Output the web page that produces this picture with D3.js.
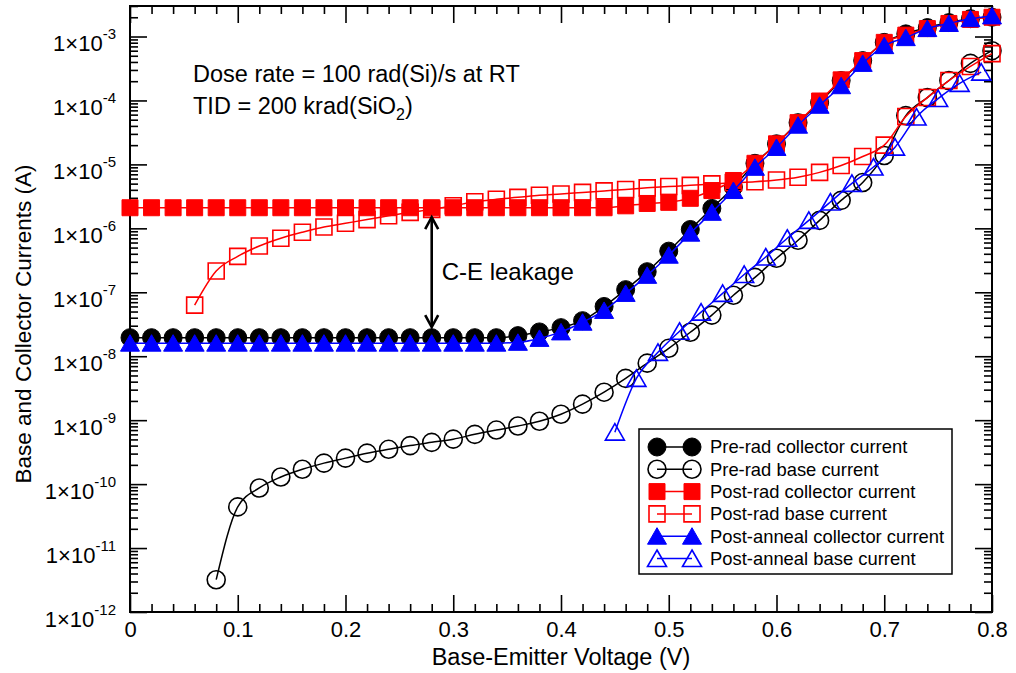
<!DOCTYPE html>
<html>
<head>
<meta charset="utf-8">
<script src="https://cdn.jsdelivr.net/npm/d3@7"></script>
<style>
  body { margin: 0; background: #fff; }
  text { font-family: "Liberation Sans", Arial, Helvetica, sans-serif; }
</style>
</head>
<body>
<svg id="chart" width="1016" height="673"></svg>
<script>
// voltages (V)
var vAll = [0, 0.02, 0.04, 0.06, 0.08, 0.10, 0.12, 0.14, 0.16, 0.18, 0.20, 0.22, 0.24, 0.26, 0.28, 0.30, 0.32, 0.34,
            0.36, 0.38, 0.40, 0.42, 0.44, 0.46, 0.48, 0.50, 0.52, 0.54, 0.56, 0.58, 0.60, 0.62, 0.64, 0.66, 0.68,
            0.70, 0.72, 0.74, 0.76, 0.78, 0.80];
var vPreBase = vAll.slice(4);   // 0.08 .. 0.80
var vPostBase = vAll.slice(3);  // 0.06 .. 0.80
var vAnnBase = [0.45, 0.47, 0.49, 0.51, 0.53, 0.55, 0.57, 0.59, 0.61, 0.63, 0.65, 0.67, 0.69, 0.71, 0.73, 0.75, 0.77, 0.79];

// currents (A)
var preCollector = [1.95e-8, 1.95e-8, 1.95e-8, 1.95e-8, 1.95e-8, 1.95e-8, 1.95e-8, 1.95e-8, 1.95e-8, 1.95e-8,
                    1.95e-8, 1.95e-8, 1.95e-8, 1.95e-8, 1.95e-8, 1.95e-8, 1.95e-8, 1.95e-8,
                    2.1e-8, 2.4e-8, 2.8e-8, 3.6e-8, 6.0e-8, 1.1e-7, 2.1e-7, 4.4e-7, 9.6e-7, 2.05e-6, 4.4e-6,
                    1.04e-5, 2.1e-5, 4.5e-5, 9.3e-5, 2.05e-4, 4.2e-4, 8.1e-4, 1.1e-3, 1.38e-3, 1.65e-3, 1.9e-3, 2.0e-3];
var preBase = [3.2e-12, 4.4e-11, 8.7e-11, 1.29e-10, 1.71e-10, 2.13e-10, 2.55e-10, 3.05e-10, 3.5e-10, 4.0e-10,
               4.5e-10, 5.05e-10, 6.0e-10, 7.0e-10, 8.1e-10, 9.6e-10, 1.24e-9, 1.78e-9, 2.74e-9, 4.5e-9,
               7.8e-9, 1.33e-8, 2.37e-8, 4.4e-8, 9.0e-8, 1.71e-7, 3.4e-7, 6.5e-7, 1.33e-6, 2.74e-6,
               5.2e-6, 1.38e-5, 5.8e-5, 1.11e-4, 2.05e-4, 3.8e-4, 6.0e-4];
var postCollector = [2.1e-6, 2.1e-6, 2.1e-6, 2.1e-6, 2.1e-6, 2.1e-6, 2.1e-6, 2.1e-6, 2.1e-6, 2.1e-6,
                     2.1e-6, 2.1e-6, 2.1e-6, 2.1e-6, 2.1e-6, 2.1e-6, 2.1e-6, 2.1e-6, 2.1e-6, 2.1e-6,
                     2.1e-6, 2.1e-6, 2.1e-6, 2.25e-6, 2.45e-6, 2.55e-6, 2.95e-6, 3.9e-6, 5.6e-6, 1.04e-5,
                     2.1e-5, 4.5e-5, 9.8e-5, 2.1e-4, 4.2e-4, 8.1e-4, 1.05e-3, 1.33e-3, 1.6e-3, 1.85e-3, 2.0e-3];
var postBase = [6.3e-8, 2.15e-7, 3.65e-7, 5.3e-7, 7.0e-7, 8.7e-7, 1.05e-6, 1.2e-6, 1.37e-6, 1.57e-6,
                1.78e-6, 1.98e-6, 2.25e-6, 2.6e-6, 2.85e-6, 3.05e-6, 3.3e-6, 3.45e-6, 3.65e-6, 3.85e-6,
                4.05e-6, 4.3e-6, 4.5e-6, 4.7e-6, 4.95e-6, 5.15e-6, 5.35e-6, 5.7e-6, 6.3e-6, 7.5e-6,
                9.6e-6, 1.33e-5, 2.0e-5, 5.6e-5, 1.11e-4, 2.05e-4, 3.4e-4, 5.4e-4];
var annCollector = [1.6e-8, 1.6e-8, 1.6e-8, 1.6e-8, 1.6e-8, 1.6e-8, 1.6e-8, 1.6e-8, 1.6e-8, 1.6e-8,
                    1.6e-8, 1.6e-8, 1.6e-8, 1.6e-8, 1.6e-8, 1.6e-8, 1.6e-8, 1.6e-8,
                    1.65e-8, 1.9e-8, 2.4e-8, 3.4e-8, 5.2e-8, 9.6e-8, 1.84e-7, 3.8e-7, 8.4e-7, 1.78e-6, 3.9e-6,
                    9.0e-6, 1.84e-5, 4.1e-5, 8.4e-5, 1.7e-4, 3.8e-4, 7.2e-4, 9.6e-4, 1.33e-3, 1.6e-3, 1.9e-3, 2.1e-3];
var annBase = [6.5e-10, 4.5e-9, 1.15e-8, 2.46e-8, 4.9e-8, 9.6e-8, 1.9e-7, 3.56e-7, 7.0e-7, 1.33e-6,
               2.58e-6, 5.05e-6, 9.1e-6, 1.86e-5, 5.5e-5, 1.07e-4, 1.85e-4, 2.77e-4];

var seriesNames = ["Pre-rad collector current", "Pre-rad base current", "Post-rad collector current",
                   "Post-rad base current", "Post-anneal collector current", "Post-anneal base current"];

var xTicks = [0, 0.1, 0.2, 0.3, 0.4, 0.5, 0.6, 0.7, 0.8];
var yExponents = [-12, -11, -10, -9, -8, -7, -6, -5, -4, -3];

// C-E leakage arrow
var arrowV = 0.28, arrowTop = 1.55e-6, arrowBottom = 2.75e-8;

var series = [
  {name: seriesNames[0], v: vAll, i: preCollector, color: "#000000", shape: "circle", filled: true},
  {name: seriesNames[1], v: vPreBase, i: preBase, color: "#000000", shape: "circle", filled: false},
  {name: seriesNames[2], v: vAll, i: postCollector, color: "#ff0000", shape: "square", filled: true},
  {name: seriesNames[3], v: vPostBase, i: postBase, color: "#ff0000", shape: "square", filled: false},
  {name: seriesNames[4], v: vAll, i: annCollector, color: "#0000ff", shape: "triangle", filled: true},
  {name: seriesNames[5], v: vAnnBase, i: annBase, color: "#0000ff", shape: "triangle", filled: false}
];

var svg = d3.select("#chart"),
    margin = {top: 6, right: 24, bottom: 61, left: 130},
    width = +svg.attr("width") - margin.left - margin.right,
    height = +svg.attr("height") - margin.top - margin.bottom;

var x = d3.scaleLinear().domain([0, 0.8]).range([0, width]);
var y = d3.scaleLog().domain([1e-12, 3e-3]).range([height, 0]);

var g = svg.append("g").attr("transform", "translate(" + margin.left + "," + margin.top + ")");

// minor ticks
var xMinor = [];
xTicks.forEach(function(t, k) { if (k < xTicks.length - 1) [1, 2, 3, 4].forEach(function(j) { xMinor.push(t + j * 0.02); }); });
var yMinor = [];
yExponents.forEach(function(e) { for (var m = 2; m <= 9; m++) { var v = m * Math.pow(10, e); if (v <= 3e-3) yMinor.push(v); } });

function axisStyle(sel) {
  sel.select(".domain").remove();
  sel.selectAll(".tick line").attr("stroke", "#000").attr("stroke-width", 1.6);
}

g.append("g").attr("transform", "translate(0," + height + ")")
  .call(d3.axisBottom(x).tickValues(xMinor).tickSize(-8).tickFormat(""))
  .call(axisStyle);
g.append("g")
  .call(d3.axisTop(x).tickValues(xMinor).tickSize(-8).tickFormat(""))
  .call(axisStyle);
g.append("g")
  .call(d3.axisTop(x).tickValues(xTicks).tickSize(-17).tickFormat(""))
  .call(axisStyle);
var xAxis = g.append("g").attr("transform", "translate(0," + height + ")")
  .call(d3.axisBottom(x).tickValues(xTicks).tickSize(-17).tickPadding(9)
    .tickFormat(function(d) { return d === 0 ? "0" : d.toFixed(1); }))
  .call(axisStyle);
xAxis.selectAll(".tick text").attr("font-size", 22).attr("fill", "#000")
  .attr("font-family", "'Liberation Sans', Arial, sans-serif");

g.append("g")
  .call(d3.axisLeft(y).tickValues(yMinor).tickSize(-8).tickFormat(""))
  .call(axisStyle);
g.append("g").attr("transform", "translate(" + width + ",0)")
  .call(d3.axisRight(y).tickValues(yMinor).tickSize(-8).tickFormat(""))
  .call(axisStyle);
g.append("g").attr("transform", "translate(" + width + ",0)")
  .call(d3.axisRight(y).tickValues(yExponents.map(function(e) { return Math.pow(10, e); })).tickSize(-17).tickFormat(""))
  .call(axisStyle);
var yAxis = g.append("g")
  .call(d3.axisLeft(y).tickValues(yExponents.map(function(e) { return Math.pow(10, e); })).tickSize(-17).tickPadding(14)
    .tickFormat(""))
  .call(axisStyle);

yAxis.selectAll(".tick").each(function(d) {
  var e = Math.round(Math.log10(d));
  var t = d3.select(this).select("text")
    .attr("font-size", 22).attr("fill", "#000").attr("dy", "0.64em")
    .attr("font-family", "'Liberation Sans', Arial, sans-serif");
  t.append("tspan").text("1\u00d710");
  t.append("tspan").attr("font-size", 15).attr("dy", -12).text(e);
});

// frame
g.append("rect").attr("width", width).attr("height", height)
  .attr("fill", "none").attr("stroke", "#000").attr("stroke-width", 2);

// axis titles
svg.append("text")
  .attr("x", margin.left + width / 2).attr("y", 665)
  .attr("text-anchor", "middle").attr("font-size", 23.5)
  .text("Base-Emitter Voltage (V)");
svg.append("text")
  .attr("transform", "translate(31," + (margin.top + height / 2 + 15) + ") rotate(-90)")
  .attr("text-anchor", "middle").attr("font-size", 22.5)
  .text("Base and Collector Currents (A)");

function markerPath(shape) {
  var p = d3.path();
  if (shape === "circle") p.arc(0, 0, 9, 0, 2 * Math.PI);
  else if (shape === "square") p.rect(-8, -8, 16, 16);
  else { p.moveTo(0, -8.5); p.lineTo(9.5, 8); p.lineTo(-9.5, 8); p.closePath(); }
  return p.toString();
}

function styleMarker(sel, s) {
  sel.attr("d", markerPath(s.shape))
    .attr("fill", s.filled ? s.color : "none")
    .attr("stroke", s.color)
    .attr("stroke-width", s.filled ? 1 : 1.6);
}

var line = d3.line()
  .x(function(d) { return x(d[0]); })
  .y(function(d) { return y(d[1]); })
  .curve(d3.curveMonotoneX);

series.forEach(function(s) {
  var pts = s.v.map(function(v, k) { return [v, s.i[k]]; });
  var sg = g.append("g");
  sg.append("path").datum(pts)
    .attr("d", line)
    .attr("fill", "none").attr("stroke", s.color).attr("stroke-width", 1.5);
  sg.selectAll("path.mk").data(pts).enter().append("path")
    .attr("class", "mk")
    .attr("transform", function(d) { return "translate(" + x(d[0]) + "," + y(d[1]) + ")"; })
    .call(styleMarker, s);
});

// C-E leakage arrow
var ax = x(arrowV), ay1 = y(arrowTop), ay2 = y(arrowBottom);
var arrow = g.append("g").attr("stroke", "#000").attr("stroke-width", 2.6).attr("fill", "none");
arrow.append("line").attr("x1", ax).attr("x2", ax).attr("y1", ay1 + 1).attr("y2", ay2 - 1);
arrow.append("polyline").attr("points", [[ax - 6.5, ay1 + 13], [ax, ay1 + 1], [ax + 6.5, ay1 + 13]].join(" "));
arrow.append("polyline").attr("points", [[ax - 6.5, ay2 - 13], [ax, ay2 - 1], [ax + 6.5, ay2 - 13]].join(" "));
g.append("text").attr("x", ax + 10).attr("y", (ay1 + ay2) / 2 + 8)
  .attr("font-size", 24).text("C-E leakage");

// annotation
g.append("text").attr("x", 63).attr("y", 76).attr("font-size", 23.5)
  .text("Dose rate = 100 rad(Si)/s at RT");
var tid = g.append("text").attr("x", 63).attr("y", 108).attr("font-size", 23.5);
tid.append("tspan").text("TID = 200 krad(SiO");
tid.append("tspan").attr("font-size", 16).attr("dy", 6).text("2");
tid.append("tspan").attr("dy", -6).text(")");

// legend
var legend = g.append("g").attr("transform", "translate(509,423)");
legend.append("rect").attr("width", 313).attr("height", 145)
  .attr("fill", "#fff").attr("stroke", "#000").attr("stroke-width", 1.5);
var rows = legend.selectAll("g.row").data(series).enter().append("g")
  .attr("class", "row")
  .attr("transform", function(d, k) { return "translate(0," + (18 + k * 22.3) + ")"; });
rows.append("line").attr("x1", 18).attr("x2", 53)
  .attr("stroke", function(d) { return d.color; }).attr("stroke-width", 1.5);
rows.each(function(s) {
  var r = d3.select(this);
  [18, 53].forEach(function(px) {
    r.append("path").attr("transform", "translate(" + px + ",0)").call(styleMarker, s);
  });
});
rows.append("text").attr("x", 71).attr("dy", "0.35em").attr("font-size", 18.4)
  .text(function(d) { return d.name; });
</script>
</body>
</html>
